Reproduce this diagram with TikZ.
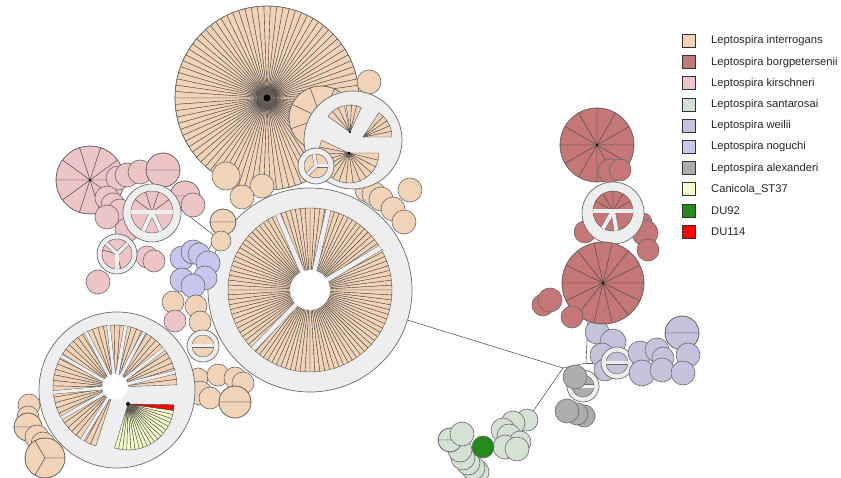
\documentclass[tikz,border=0pt]{standalone}
\usepackage{fontspec}
\setmainfont{Liberation Sans}

\definecolor{cInt}{HTML}{F1D4B8}
\definecolor{cBor}{HTML}{C57677}
\definecolor{cKir}{HTML}{EEC5C7}
\definecolor{cSan}{HTML}{D6E1D5}
\definecolor{cWei}{HTML}{C4C3DB}
\definecolor{cNog}{HTML}{C6C6EF}
\definecolor{cAle}{HTML}{ADADAD}
\definecolor{cCan}{HTML}{F4FCCC}
\definecolor{cDUa}{HTML}{238A1C}
\definecolor{cDUb}{HTML}{FF0000}
\definecolor{cGrp}{HTML}{EEEEEE}
\definecolor{cEdge}{HTML}{6A6A6A}
\definecolor{cSlice}{HTML}{4F4A46}
\definecolor{cLink}{HTML}{5A5A5A}

\tikzset{
  edge/.style={draw=cEdge, line width=0.6pt},
  slice/.style={draw=cSlice, line width=0.38pt, line join=round},
  grp/.style={draw=cEdge, line width=0.7pt, fill=cGrp},
  link/.style={draw=cLink, line width=0.6pt},
  legbox/.style={draw=black!80, line width=0.8pt, minimum size=13pt, inner sep=0pt},
  legtext/.style={anchor=west, inner sep=0pt, text=black!85, font=\fontsize{11.2}{13}\selectfont},
}

% sectors of a pie: centre x, centre y, radius, start angle, end angle, count, colour
\newcommand\fan[7]{%
  \pgfmathsetmacro\fstep{(#5-#4)/#6}%
  \foreach \ii in {1,...,#6}{%
    \pgfmathsetmacro\fa{#4+(\ii-1)*\fstep}%
    \pgfmathsetmacro\fb{#4+\ii*\fstep}%
    \filldraw[slice,fill=#7] (#1,#2) -- ++(\fa:#3pt) arc[start angle=\fa,end angle=\fb,radius=#3pt] -- cycle;
  }}
% full pie with outline: x, y, radius, slices, colour
\newcommand\pie[5]{\fan{#1}{#2}{#3}{0}{360}{#4}{#5}\draw[edge] (#1,#2) circle[radius=#3pt];}
% plain bubble
\newcommand\bub[4]{\filldraw[edge,fill=#4] (#1,#2) circle[radius=#3pt];}
% group disc
\newcommand\disc[3]{\filldraw[grp] (#1,#2) circle[radius=#3pt];}
% radial gaps cut through sectors: x, y, length, width, angles
\newcommand\gaps[5]{%
  \pgfmathsetmacro\gw{#4+0.9}%
  \foreach \ga in {#5}{\draw[cEdge, line width=\gw pt] (#1,#2) -- ++(\ga:#3pt);}%
  \foreach \ga in {#5}{\draw[cGrp, line width=#4pt] (#1,#2) -- ++(\ga:#3pt);}}
% small group disc split in two halves
\newcommand\thetad[5]{%
  \disc{#1}{#2}{#3}%
  \fan{#1}{#2}{#4}{0}{180}{1}{#5}%
  \fan{#1}{#2}{#4}{180}{360}{1}{#5}%
  \gaps{#1}{#2}{#4}{3}{0,180}}

\begin{document}
\begin{tikzpicture}[x=1pt, y=-1pt]
\useasboundingbox (0,0) rectangle (841,478);

% ---------- links between clusters ----------
\coordinate (cdisc) at (310,290);
\coordinate (hubA) at (563,368);
\coordinate (hubW) at (586,363);
\coordinate (sanJ) at (527,420);
\coordinate (weiJ) at (617,363);
\coordinate (borJ) at (588,318);
\coordinate (kirJ) at (184,212);
\coordinate (nogJ) at (206,254);
\coordinate (intJ) at (216,237);
\draw[link] (cdisc) -- (hubA);
\draw[link] (hubA) -- (sanJ);
\draw[link] (hubA) -- (hubW);
\draw[link] (hubW) -- (weiJ);
\draw[link] (borJ) -- (hubW);
\draw[link] (kirJ) -- (intJ);
\draw[link] (nogJ) -- (intJ);

% ---------- interrogans, upper part ----------
\pie{267}{98}{92}{90}{cInt}
\fill[black] (267,98) circle[radius=3.5pt];
\fan{321}{118}{32}{20}{380}{8}{cInt}
\draw[edge] (321,118) circle[radius=32pt];
\bub{369}{82}{12}{cInt}
\bub{226}{176}{14}{cInt}
\bub{262}{186}{12}{cInt}
\bub{242}{197}{12}{cInt}

% ---------- kirschneri ----------
\pie{90}{180}{34}{10}{cKir}
\fill[black] (90,180) circle[radius=1.2pt];
\bub{118}{178}{12}{cKir}
\bub{127}{175}{12}{cKir}
\bub{140}{172}{12}{cKir}
\pie{163}{170}{17}{2}{cKir}
\bub{107}{198}{12}{cKir}
\bub{113}{205}{12}{cKir}
\bub{120}{211}{12}{cKir}
\bub{107}{217}{12}{cKir}
\bub{127}{230}{12}{cKir}
\pie{185}{196}{15}{2}{cKir}
\bub{193}{205}{12}{cKir}
\bub{147}{257}{11}{cKir}
\bub{154}{261}{11}{cKir}
\bub{98}{282}{12}{cKir}
% kirschneri group discs
\disc{152}{213}{29}
\fan{152}{212}{21}{0}{180}{5}{cKir}
\fan{152}{212}{21}{180}{360}{3}{cKir}
\gaps{152}{212}{21}{4}{0,180,245,295}
\disc{117}{254}{20}
\fan{117}{254}{15}{45}{405}{3}{cKir}
\gaps{117}{254}{15}{3.5}{45,135,270}

% ---------- central interrogans group ----------
\disc{310}{290}{102}
\fan{310}{290}{82}{0}{360}{104}{cInt}
\gaps{310}{290}{82}{4.5}{113,77,31,226}
\fill[white] (310,290) circle[radius=20pt];

% bubbles around the central group
\bub{367}{190}{12}{cInt}
\bub{374}{194}{12}{cInt}
\bub{381}{199}{12}{cInt}
\bub{393}{209}{12}{cInt}
\bub{404}{222}{12}{cInt}
\bub{410}{190}{12}{cInt}
\pie{223}{222}{13}{2}{cInt}
\bub{221}{241}{10}{cInt}

% ---------- noguchi ----------
\bub{182}{258}{12}{cNog}
\bub{193}{252}{12}{cNog}
\bub{199}{254}{11}{cNog}
\bub{208}{263}{12}{cNog}
\bub{205}{278}{12}{cNog}
\bub{182}{280}{12}{cNog}
\bub{193}{286}{12}{cNog}

\bub{173}{302}{11}{cInt}
\bub{196}{306}{11}{cInt}
\bub{175}{321}{11}{cKir}
\bub{200}{322}{11}{cInt}
\thetad{203}{346}{16}{11}{cInt}
\bub{198}{378}{10}{cInt}
\bub{218}{375}{11}{cInt}
\bub{235}{378}{11}{cInt}
\bub{243}{383}{11}{cInt}
\bub{200}{393}{12}{cInt}
\bub{210}{398}{11}{cInt}
\pie{235}{402}{16}{2}{cInt}

% ---------- top right interrogans groups ----------
\disc{353}{140}{49}
\fan{350}{132}{27}{65}{98}{3}{cInt}
\fan{350}{132}{27}{102}{145}{3}{cInt}
\fan{363}{137}{29}{0}{57}{5}{cInt}
\fan{349}{153}{30}{-205}{0}{15}{cInt}
\fill[black] (349,153) circle[radius=1.5pt];
\fill[black] (350,132) circle[radius=1.2pt];
\disc{316}{166}{18}
\fan{316}{166}{12}{0}{100}{1}{cInt}
\fan{316}{166}{12}{100}{225}{1}{cInt}
\fan{316}{166}{12}{225}{360}{1}{cInt}
\gaps{316}{166}{12}{3}{0,100,225}

% ---------- lower left group with Canicola ----------
\bub{29}{405}{11}{cInt}
\bub{28}{417}{11}{cInt}
\pie{28}{427}{14}{2}{cInt}
\bub{37}{437}{12}{cInt}
\bub{43}{444}{12}{cInt}
\pie{45}{458}{20}{3}{cInt}
\disc{117}{390}{78}
\fan{115}{387}{62}{2}{252}{48}{cInt}
\gaps{115}{387}{62}{3}{14,38,62,80,96,118,150,185,210,238}
\fill[white] (115,387) circle[radius=13pt];
\fan{128}{404}{46}{-107}{-8}{19}{cCan}
\fan{128}{404}{46}{-8}{-1}{1}{cDUb}
\fill[black] (128,404) circle[radius=2pt];

% ---------- borgpetersenii ----------
\pie{597}{145}{37}{12}{cBor}
\fill[black] (597,145) circle[radius=1.2pt];
\bub{610}{171}{12}{cBor}
\bub{620}{170}{11}{cBor}
\bub{585}{232}{11}{cBor}
\bub{643}{222}{9}{cBor}
\bub{645}{233}{13}{cBor}
\bub{648}{250}{11}{cBor}
\disc{613}{213}{31}
\fan{613}{211}{20}{0}{180}{6}{cBor}
\fan{613}{211}{20}{180}{240}{1}{cBor}
\fan{613}{211}{20}{240}{280}{1}{cBor}
\fan{613}{211}{20}{280}{360}{1}{cBor}
\gaps{613}{211}{20}{4}{0,180,240,280}
\bub{597}{332}{12}{cWei}
\pie{603}{283}{41}{14}{cBor}
\fill[black] (603,283) circle[radius=1.2pt];
\bub{543}{305}{11}{cBor}
\bub{550}{300}{12}{cBor}
\bub{572}{317}{11}{cBor}

% ---------- weilii ----------
\bub{613}{342}{13}{cWei}
\bub{602}{355}{12}{cWei}
\bub{605}{370}{11}{cWei}
\thetad{617}{363}{16}{11}{cWei}
\bub{640}{353}{12}{cWei}
\bub{657}{350}{12}{cWei}
\bub{663}{358}{11}{cWei}
\bub{642}{373}{13}{cWei}
\bub{662}{370}{12}{cWei}
\pie{682}{333}{17}{2}{cWei}
\bub{688}{355}{12}{cWei}
\bub{683}{373}{12}{cWei}

% ---------- alexanderi ----------
\thetad{583}{386}{16}{11}{cAle}
\bub{575}{377}{12}{cAle}
\bub{584}{416}{11}{cAle}
\bub{577}{414}{11}{cAle}
\bub{567}{411}{12}{cAle}

% ---------- santarosai ----------
\bub{527}{420}{11}{cSan}
\bub{513}{423}{12}{cSan}
\bub{503}{430}{12}{cSan}
\bub{509}{436}{12}{cSan}
\bub{520}{442}{11}{cSan}
\bub{505}{447}{12}{cSan}
\bub{517}{449}{12}{cSan}
\bub{477}{472}{12}{cSan}
\bub{473}{468}{12}{cSan}
\bub{468}{463}{12}{cSan}
\bub{463}{458}{12}{cSan}
\bub{460}{450}{12}{cSan}
\pie{450}{440}{12}{2}{cSan}
\bub{462}{434}{12}{cSan}
\bub{483}{447}{11}{cDUa}

% ---------- legend ----------
\foreach \col/\txt [count=\n] in {cInt/Leptospira interrogans, cBor/Leptospira borgpetersenii,
    cKir/Leptospira kirschneri, cSan/Leptospira santarosai, cWei/Leptospira weilii,
    cNog/Leptospira noguchi, cAle/Leptospira alexanderi, cCan/Canicola\_ST37,
    cDUa/DU92, cDUb/DU114}{
  \node[legbox, fill=\col] (lb\n) at (689,{41+21.2*(\n-1)}) {};
  \node[legtext] (lt\n) at (711,{41+21.2*(\n-1)}) {\txt};
}
\end{tikzpicture}
\end{document}
